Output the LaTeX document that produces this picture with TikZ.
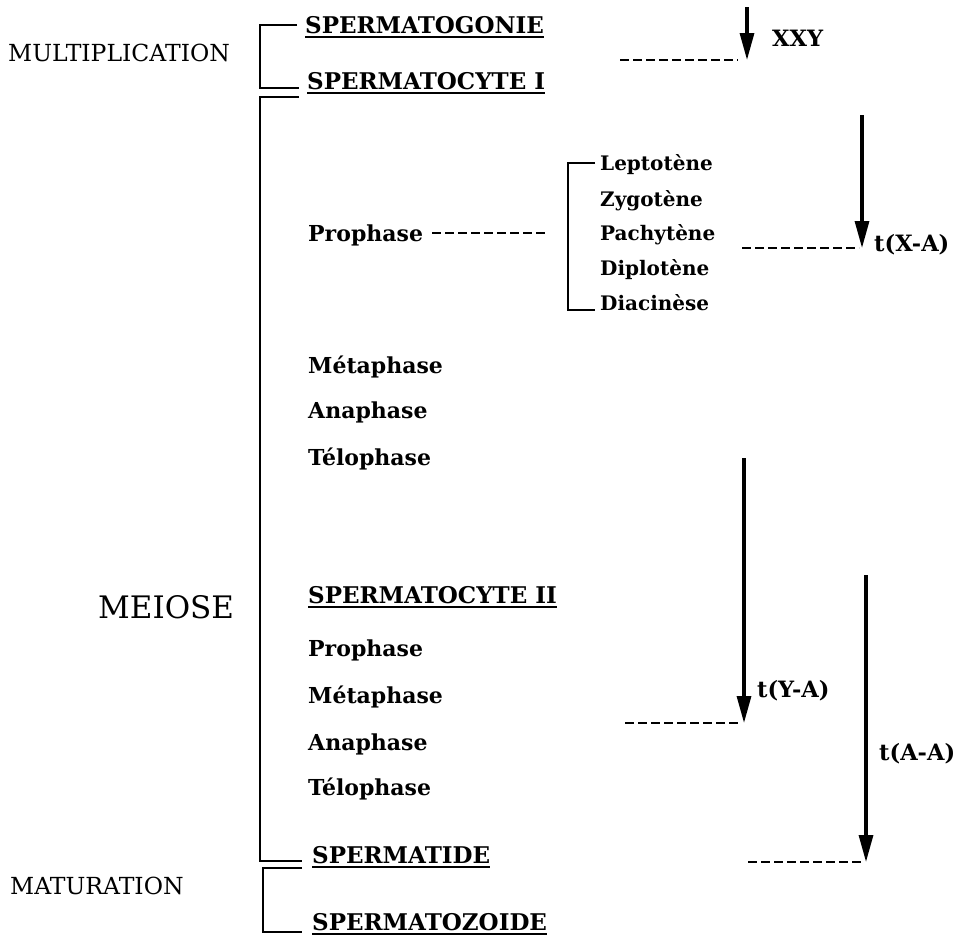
\documentclass[tikz,border=0pt]{standalone}
\usepackage{fontspec}
\setmainfont{DejaVu Serif}
\usepackage{tikz}
\usetikzlibrary{arrows.meta, positioning}
\newcommand{\ulined}[1]{\setbox0\hbox{#1}\rlap{\rule[-5pt]{\wd0}{2.2pt}}\box0}

\begin{document}
\begin{tikzpicture}[x=1pt, y=-1pt,
    txt/.style={inner sep=0pt, anchor=west, text depth=0pt},
    phase/.style={txt, text height=16.8pt, font=\fontsize{23}{27}\selectfont\bfseries},
    stage/.style={txt, text height=16pt, font=\fontsize{22}{26}\selectfont\bfseries},
    substage/.style={txt, text height=14.6pt, font=\fontsize{20}{24}\selectfont\bfseries},
    period/.style={txt, text height=17.2pt, font=\fontsize{23.5}{28}\selectfont},
    tlabel/.style={txt, text height=16.4pt, font=\fontsize{22.5}{26}\selectfont\bfseries},
    bracket/.style={line width=2.6pt},
    dashline/.style={line width=2.8pt, dash pattern=on 9pt off 4pt},
    timearrow/.style={line width=3.2pt, -{Triangle[length=27pt, width=14pt]}}]
  \useasboundingbox (0,0) rectangle (955,940);

  % periods
  \node[period] (mult) at (8,53) {MULTIPLICATION};
  \node[txt, text height=22.6pt, font=\fontsize{31}{36}\selectfont] (meiose) at (98,607) {MEIOSE};
  \node[period] (matur) at (10,886) {MATURATION};

  % cells
  \node[phase] (gonie) at (305,25) {\ulined{SPERMATOGONIE}};
  \node[phase] (cytei) at (307,81) {\ulined{SPERMATOCYTE I}};
  \node[phase] (cyteii) at (308,595) {\ulined{SPERMATOCYTE II}};
  \node[phase] (tide) at (312,855) {\ulined{SPERMATIDE}};
  \node[phase] (zoide) at (312,922) {\ulined{SPERMATOZOIDE}};

  % first division
  \node[stage] (pro1) at (308,233) {Prophase};
  \node[stage] (meta1) at (308,365) {Métaphase};
  \node[stage] (ana1) at (308,410) {Anaphase};
  \node[stage] (telo1) at (308,457) {Télophase};
  % second division
  \node[stage] (pro2) at (308,648) {Prophase};
  \node[stage] (meta2) at (308,695) {Métaphase};
  \node[stage] (ana2) at (308,742) {Anaphase};
  \node[stage] (telo2) at (308,787) {Télophase};

  % prophase I
  \node[substage] (lepto) at (600,163) {Leptotène};
  \node[substage] (zygo) at (600,199) {Zygotène};
  \node[substage] (pachy) at (600,233) {Pachytène};
  \node[substage] (diplo) at (600,268) {Diplotène};
  \node[substage] (diaci) at (600,303) {Diacinèse};

  % brackets
  \coordinate (bx) at (260,0);
  \coordinate (sx) at (568,0);
  \draw[bracket] ([xshift=-8pt]gonie.west) -- (gonie.west -| bx) |- ([xshift=-8pt, yshift=-7pt]cytei.west);
  \draw[bracket] ([xshift=-8pt, yshift=-16pt]cytei.west) -| (bx |- tide.west) |- ([xshift=-10pt, yshift=-6pt]tide.west);
  \draw[bracket] ([xshift=-10pt, yshift=-13pt]tide.west) -| ([xshift=3pt]bx |- zoide.west) |- ([xshift=-10pt, yshift=-10pt]zoide.west);
  \draw[bracket] ([xshift=-5pt]lepto.west) -- (lepto.west -| sx) |- ([xshift=-5pt, yshift=-7pt]diaci.west);
  \coordinate (proend) at (547,233);
  \draw[dashline] ([xshift=9pt]pro1.east) -- (proend);

  % translocations
  \coordinate (xxytop) at (747,7);
  \coordinate (xxytip) at (747,60);
  \coordinate (xxydash) at (620,60);
  \draw[timearrow] (xxytop) -- (xxytip);
  \draw[dashline] (xxydash) -- ([xshift=-9pt]xxytip);
  \node[tlabel] (xxy) at (772,38) {XXY};

  \coordinate (xatop) at (862,115);
  \coordinate (xatip) at (862,248);
  \coordinate (xadash) at (742,248);
  \draw[timearrow] (xatop) -- (xatip);
  \draw[dashline] (xadash) -- ([xshift=-3pt]xatip);
  \node[tlabel] (xa) at (874,243) {t(X-A)};

  \coordinate (yatop) at (744,458);
  \coordinate (yatip) at (744,723);
  \coordinate (yadash) at (625,723);
  \draw[timearrow] (yatop) -- (yatip);
  \draw[dashline] (yadash) -- ([xshift=-3pt]yatip);
  \node[tlabel] (ya) at (757,689) {t(Y-A)};

  \coordinate (aatop) at (866,575);
  \coordinate (aatip) at (866,862);
  \coordinate (aadash) at (748,862);
  \draw[timearrow] (aatop) -- (aatip);
  \draw[dashline] (aadash) -- ([xshift=-3pt]aatip);
  \node[tlabel] (aa) at (879,752) {t(A-A)};
\end{tikzpicture}
\end{document}
